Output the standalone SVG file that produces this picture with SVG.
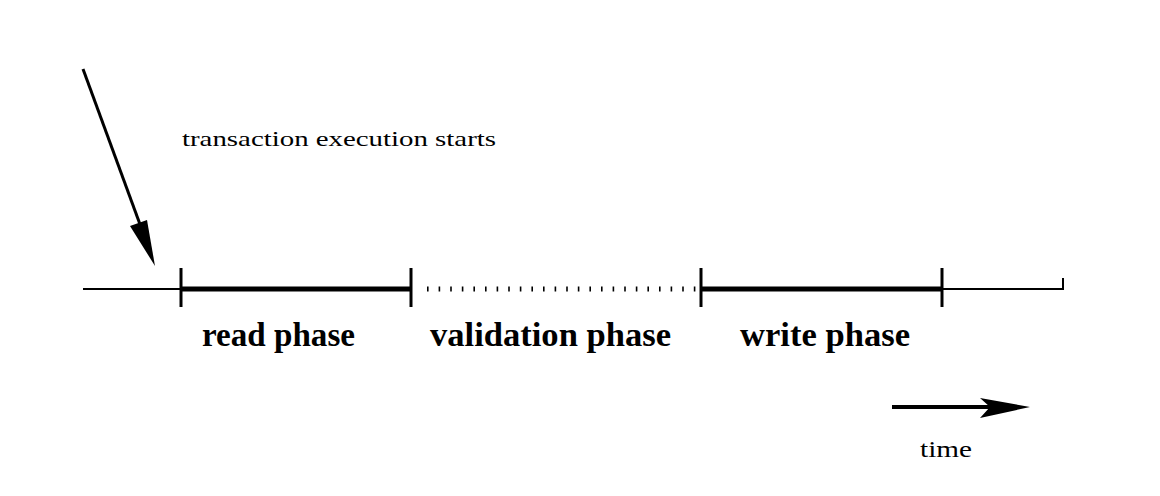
<svg xmlns="http://www.w3.org/2000/svg" width="1160" height="496" viewBox="0 0 1160 496">
<style>
.thin{stroke:#000;stroke-width:2;fill:none}
.thick{stroke:#000;stroke-width:5;fill:none}
.tick{stroke:#000;stroke-width:3;fill:none}
.dot{stroke:#000;stroke-width:5;stroke-dasharray:1.6 10;fill:none}
.lbl{font-family:"Liberation Serif","Times New Roman",serif;fill:#000}
.big{font-size:34px;font-weight:bold}
</style>
<rect width="1160" height="496" fill="#fff"/>
<g id="connectors">
<line class="thin" x1="83" y1="289" x2="181" y2="289"/>
<line class="thick" x1="181" y1="289" x2="411" y2="289"/>
<line class="dot" x1="427" y1="289" x2="700" y2="289"/>
<line class="thick" x1="701" y1="289" x2="942" y2="289"/>
<polyline class="thin" points="942,289 1063,289 1063,278"/>
<line class="tick" x1="181" y1="268" x2="181" y2="307"/>
<line class="tick" x1="411" y1="268" x2="411" y2="307"/>
<line class="tick" x1="701" y1="268" x2="701" y2="307"/>
<line class="tick" x1="942" y1="268" x2="942" y2="307"/>
<line x1="83" y1="69" x2="145" y2="238" stroke="#000" stroke-width="3"/>
<polygon points="130,226 147,220 155,266" fill="#000"/>
<line x1="892" y1="407" x2="990" y2="407" stroke="#000" stroke-width="4"/>
<polygon points="980,398 1030,407 980,418 990,407" fill="#000"/>
</g>
<g id="start-label"><text class="lbl" x="182" y="146" font-size="21" textLength="314" lengthAdjust="spacingAndGlyphs">transaction execution starts</text></g>
<g id="read-phase"><text class="lbl big" x="202" y="346" textLength="153" lengthAdjust="spacingAndGlyphs">read phase</text></g>
<g id="validation-phase"><text class="lbl big" x="430" y="346" textLength="241" lengthAdjust="spacingAndGlyphs">validation phase</text></g>
<g id="write-phase"><text class="lbl big" x="740" y="346" textLength="170" lengthAdjust="spacingAndGlyphs">write phase</text></g>
<g id="time-label"><text class="lbl" x="920" y="457" font-size="23" textLength="52" lengthAdjust="spacingAndGlyphs">time</text></g>
</svg>
